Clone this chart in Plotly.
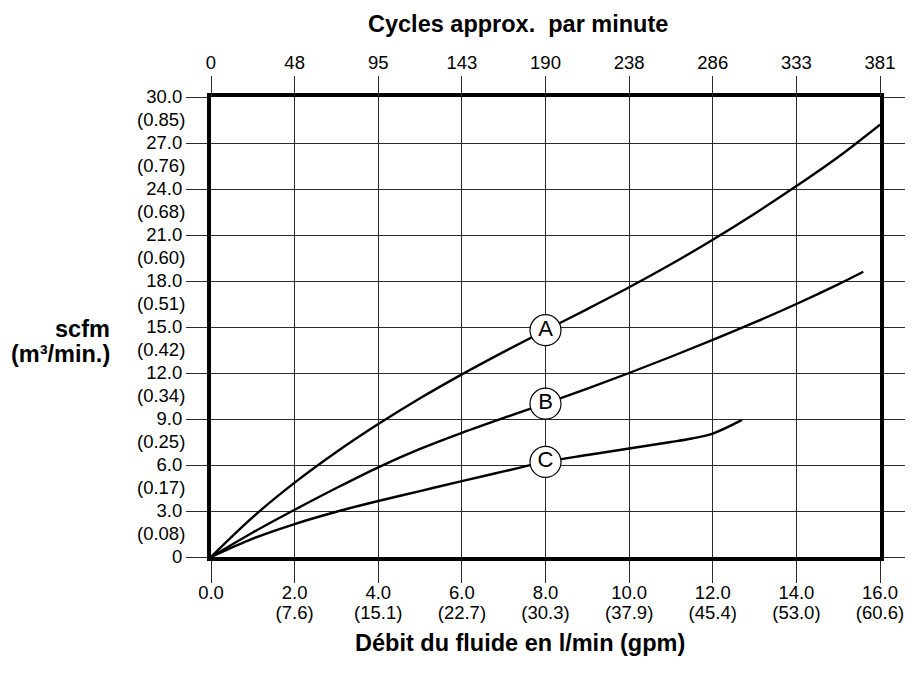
import plotly.graph_objects as go

# Data
a_x = [0, 1, 2, 3, 4, 5, 6, 7, 8, 9, 10, 11, 12, 13, 14, 15, 16]
a_y = [0, 2.6, 4.85, 6.85, 8.67, 10.35, 11.91, 13.38, 14.79, 16.17, 17.59, 19.09, 20.69, 22.39, 24.19, 26.09, 28.2]
b_x = [0, 1, 2, 3, 4, 5, 6, 7, 8, 9, 10, 11, 12, 13, 14, 15, 15.6]
b_y = [0, 1.6, 3.08, 4.5, 5.85, 7.05, 8.1, 9.07, 10.0, 10.98, 12.0, 13.06, 14.16, 15.3, 16.5, 17.78, 18.6]
c_x = [0, 1, 2, 3, 4, 5, 6, 7, 8, 9, 10, 11, 11.5, 12, 12.7]
c_y = [0, 1.2, 2.15, 2.95, 3.65, 4.3, 4.95, 5.58, 6.2, 6.65, 7.08, 7.5, 7.73, 8.05, 8.94]
label_names = ["A", "B", "C"]
label_x = [8, 8, 8]
label_y = [14.79, 10.0, 6.2]

x_ticks = [0, 2, 4, 6, 8, 10, 12, 14, 16]
x_labels = ["0.0", "2.0", "4.0", "6.0", "8.0", "10.0", "12.0", "14.0", "16.0"]
x_sub_labels = ["", "(7.6)", "(15.1)", "(22.7)", "(30.3)", "(37.9)", "(45.4)", "(53.0)", "(60.6)"]
top_labels = ["0", "48", "95", "143", "190", "238", "286", "333", "381"]
y_ticks = [0, 3, 6, 9, 12, 15, 18, 21, 24, 27, 30]
y_labels = ["0", "3.0", "6.0", "9.0", "12.0", "15.0", "18.0", "21.0", "24.0", "27.0", "30.0"]
y_sub_ticks = [1.5, 4.5, 7.5, 10.5, 13.5, 16.5, 19.5, 22.5, 25.5, 28.5]
y_sub_labels = ["(0.08)", "(0.17)", "(0.25)", "(0.34)", "(0.42)", "(0.51)", "(0.60)",
                "(0.68)", "(0.76)", "(0.85)"]

FONT = "Liberation Sans, Arial, sans-serif"
TICKFONT = dict(family=FONT, size=18.5, color="black")
GRID = "#2a2a2a"
CLEAR = "rgba(0,0,0,0)"

fig = go.Figure()
for xs, ys in [(a_x, a_y), (b_x, b_y), (c_x, c_y)]:
    fig.add_trace(go.Scatter(x=xs, y=ys, mode="lines", line=dict(color="black", width=2.4, shape="spline"),
                             showlegend=False, hoverinfo="skip", cliponaxis=False))
fig.add_trace(go.Scatter(x=label_x, y=label_y, mode="markers+text", text=label_names,
                         textposition="middle center", textfont=dict(size=22, color="black", family=FONT),
                         marker=dict(size=31, color="white", line=dict(color="black", width=1.2)),
                         showlegend=False, hoverinfo="skip"))
fig.add_trace(go.Scatter(x=[0], y=[0], xaxis="x2", yaxis="y2", mode="markers",
                         marker=dict(opacity=0), showlegend=False, hoverinfo="skip"))
fig.add_trace(go.Scatter(x=[0], y=[0], xaxis="x3", yaxis="y", mode="markers",
                         marker=dict(opacity=0), showlegend=False, hoverinfo="skip"))

W, H = 911, 666  # page body adds 8px margin
L, T, R, B = 203, 89, 39, 117
fig.update_layout(
    width=W, height=H,
    margin=dict(l=L, r=R, t=T, b=B),
    paper_bgcolor="white", plot_bgcolor="white",
    font=dict(family=FONT, size=18.5, color="black"),
    xaxis=dict(range=[0, 16], tickvals=x_ticks, ticktext=x_labels, showgrid=True, gridcolor=GRID,
               gridwidth=1, zeroline=False, showline=True, linecolor="black", linewidth=4, mirror=True,
               ticks="outside", ticklen=22, tickcolor=GRID, tickwidth=1, tickfont=TICKFONT,
               ticklabelstandoff=-6),
    xaxis3=dict(range=[0, 16], overlaying="x", side="bottom", tickvals=x_ticks, ticktext=x_sub_labels,
                showgrid=False, zeroline=False, showline=False, ticks="outside", ticklen=45,
                tickcolor=CLEAR, tickfont=TICKFONT, ticklabelstandoff=-6),
    yaxis=dict(range=[0, 30], tickvals=y_ticks, ticktext=y_labels, showgrid=True, gridcolor=GRID,
               gridwidth=1, zeroline=False, showline=True, linecolor="black", linewidth=4, mirror="ticks",
               ticks="outside", ticklen=21, tickcolor=GRID, tickwidth=1, tickfont=TICKFONT),
    xaxis2=dict(range=[0, 16], overlaying="x", side="top", tickvals=x_ticks, ticktext=top_labels,
                showgrid=False, zeroline=False, showline=False, ticks="outside", ticklen=20,
                tickcolor=GRID, tickwidth=1, tickfont=TICKFONT),
    yaxis2=dict(range=[0, 30], overlaying="y", side="left", tickvals=y_sub_ticks, ticktext=y_sub_labels,
                showgrid=False, zeroline=False, showline=False, ticks="outside", ticklen=21,
                tickcolor=CLEAR, tickfont=TICKFONT),
)

# annotations placed by viewport pixel position (plot area spans 211..880 x 97..557)
pw, ph = 669, 460
def ann(text, px, py, xanchor, size):
    return dict(text=text, x=(px - 211) / pw, y=(557 - py) / ph, xref="paper", yref="paper",
                xanchor=xanchor, yanchor="middle", showarrow=False,
                font=dict(family=FONT, size=size, color="black"))

fig.update_layout(annotations=[
    ann("<b>Cycles approx.  par minute</b>", 366, 24, "left", 23.5),
    ann("<b>Débit du fluide en l/min (gpm)</b>", 353, 643, "left", 23.5),
    ann("<b>scfm</b>", 112, 329, "right", 23.5),
    ann("<b>(m³/min.)</b>", 112, 354, "right", 23.5),
])

fig.write_html("out.html")
